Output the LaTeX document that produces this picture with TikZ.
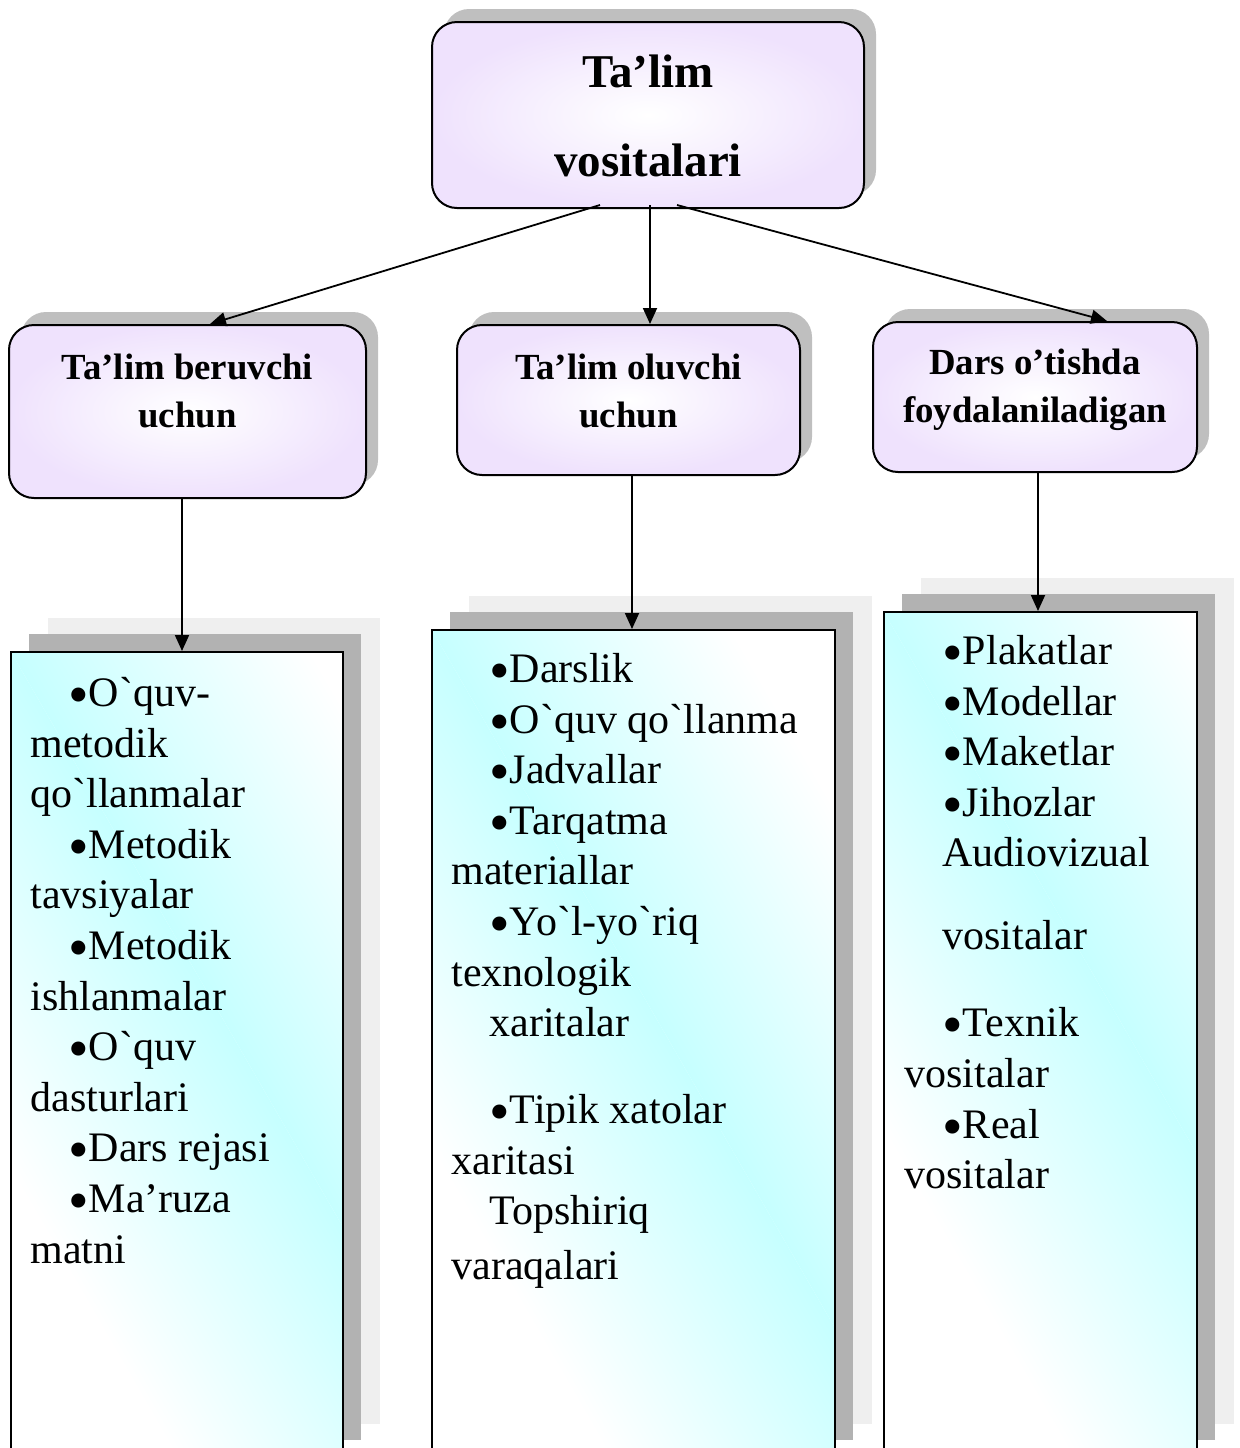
\documentclass[tikz,border=0pt]{standalone}
\usepackage{fontspec}
\usepackage{graphicx}
\setmainfont{Liberation Serif}
\usetikzlibrary{arrows.meta, shadows, positioning}

\definecolor{lavend}{RGB}{239,226,253}
\definecolor{paleaqua}{RGB}{198,255,255}
\definecolor{shadegray}{RGB}{191,191,191}
\definecolor{darkshade}{RGB}{178,178,178}
\definecolor{lightshade}{RGB}{239,239,239}

\newcommand{\gq}{\textasciigrave}
\newcommand{\ind}{\hspace*{19pt}}
\newcommand{\bul}{\raisebox{-4pt}{\scalebox{1.4}{•}}}

\tikzset{
  headbox/.style={draw, line width=1pt, rounded corners=12.5pt, inner sep=0pt,
    inner color=white, outer color=lavend,
    drop shadow={shadow xshift=6pt, shadow yshift=6.5pt, fill=shadegray, opacity=1}},
  listbox/.style={draw, line width=1pt, inner sep=0pt, fill=white,
    general shadow={shadow xshift=18.5pt, shadow yshift=17pt, fill=lightshade},
    general shadow={shadow xshift=9.2pt, shadow yshift=9pt, fill=darkshade},
    path picture={
      \begin{scope}[transform canvas={rotate around={-60:(path picture bounding box.north west)}}]
        \shade[bottom color=paleaqua, top color=white]
          (path picture bounding box.north west) ++(-800pt,0pt) rectangle ++(1600pt,130pt);
        \shade[top color=paleaqua, bottom color=white]
          (path picture bounding box.north west) ++(-800pt,-130pt) rectangle ++(1600pt,130pt);
      \end{scope}}},
  headtxt/.style={font=\fontsize{18.4}{24}\selectfont\bfseries, align=center,
    inner sep=0pt, anchor=north},
  listtxt/.style={font=\fontsize{21}{25.3}\selectfont, align=left,
    inner sep=0pt, anchor=north west},
  arr/.style={line width=0.9pt, -{Triangle[length=8pt, width=7pt]}}
}

\begin{document}
\begin{tikzpicture}[x=0.5pt, y=-0.5pt]
  \useasboundingbox (0,0) rectangle (1240,1448);
  \clip (0,0) rectangle (1240,1448);

  % top box
  \node[headbox, minimum width=216pt, minimum height=93pt] (means) at (648,115) {};
  \node[font=\fontsize{23.5}{44.5}\selectfont\bfseries, align=center, inner sep=0pt,
    anchor=north] (meanstxt) at ([yshift=-15pt]means.north)
    {\rule{0pt}{18pt}Ta’lim\\vositalari};

  % second row
  \node[headbox, minimum width=178.5pt, minimum height=86.5pt] (giver) at (187.5,411.5) {};
  \node[headbox, minimum width=171.5pt, minimum height=75pt] (learner) at (628.5,400) {};
  \node[headbox, minimum width=162pt, minimum height=75pt] (lesson) at (1035,397) {};
  \node[headtxt] (givertxt) at ([yshift=-13.5pt]giver.north)
    {\rule{0pt}{14pt}Ta’lim beruvchi\\uchun};
  \node[headtxt] (learnertxt) at ([yshift=-13.5pt]learner.north)
    {\rule{0pt}{14pt}Ta’lim oluvchi\\uchun};
  \node[headtxt] (lessontxt) at ([yshift=-12.5pt]lesson.north)
    {\rule{0pt}{14pt}Dars o’tishda\\foydalaniladigan};

  % lists
  \node[listbox, minimum width=166pt, minimum height=403pt] (giverlist) at (177,1055) {};
  \node[listbox, minimum width=201.5pt, minimum height=414pt] (learnerlist) at (633.5,1044) {};
  \node[listbox, minimum width=156.5pt, minimum height=423pt] (lessonlist) at (1040.5,1035) {};

  \node[listtxt] (giveritems) at ([xshift=10pt, yshift=-11.5pt]giverlist.north west)
    {\rule{0pt}{16pt}\ind\bul O\gq quv-\\
     metodik\\
     qo\gq llanmalar\\
     \ind\bul Metodik\\
     tavsiyalar\\
     \ind\bul Metodik\\
     ishlanmalar\\
     \ind\bul O\gq quv\\
     dasturlari\\
     \ind\bul Dars rejasi\\
     \ind\bul Ma’ruza\\
     matni};
  \node[listtxt] (learneritems) at ([xshift=10pt, yshift=-10.5pt]learnerlist.north west)
    {\rule{0pt}{16pt}\ind\bul Darslik\\
     \ind\bul O\gq quv qo\gq llanma\\
     \ind\bul Jadvallar\\
     \ind\bul Tarqatma\\
     materiallar\\
     \ind\bul Yo\gq l-yo\gq riq\\
     texnologik\\
     \ind xaritalar\\[18.2pt]
     \ind\bul Tipik xatolar\\
     xaritasi\\
     \ind Topshiriq\\[2.2pt]
     varaqalari};
  \node[listtxt] (lessonitems) at ([xshift=10.5pt, yshift=-10.5pt]lessonlist.north west)
    {\rule{0pt}{16pt}\ind\bul Plakatlar\\
     \ind\bul Modellar\\
     \ind\bul Maketlar\\
     \ind\bul Jihozlar\\
     \ind Audiovizual\\[16.2pt]
     \ind vositalar\\[18.2pt]
     \ind\bul Texnik\\
     vositalar\\
     \ind\bul Real\\
     vositalar};

  % connectors
  \draw[arr] ([xshift=-24pt, yshift=2pt]means.south) -- ([xshift=11.25pt]giver.north);
  \draw[arr] ([xshift=1pt, yshift=2pt]means.south) -- ([xshift=10.75pt]learner.north);
  \draw[arr] ([xshift=14.5pt, yshift=2pt]means.south) -- ([xshift=36pt]lesson.north);
  \draw[arr] ([xshift=-2.75pt]giver.south) -- ([xshift=2.5pt]giverlist.north);
  \draw[arr] ([xshift=1.75pt]learner.south) -- ([xshift=-0.75pt]learnerlist.north);
  \draw[arr] ([xshift=1.5pt]lesson.south) -- ([xshift=-1.25pt]lessonlist.north);
\end{tikzpicture}
\end{document}
